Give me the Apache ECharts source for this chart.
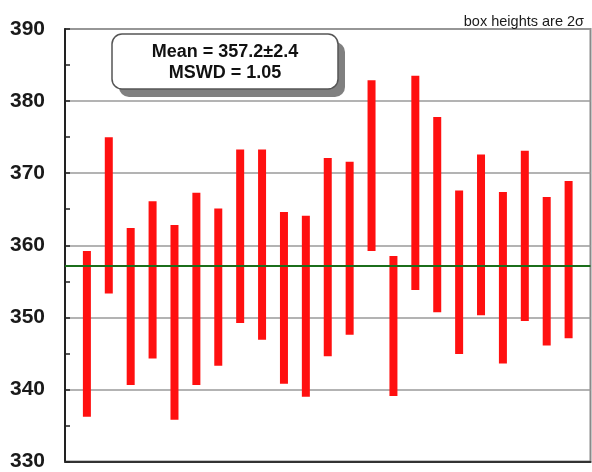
<!DOCTYPE html>
<html>
<head>
<meta charset="utf-8">
<script src="https://cdn.jsdelivr.net/npm/echarts@6/dist/echarts.min.js"></script>
<style>
  html, body { margin: 0; padding: 0; background: #fff; }
  #chart { width: 592px; height: 472px; }
</style>
</head>
<body>
<div id="chart"></div>
<script>
// Analysis number (1..23) with the lower and upper ends of each 2-sigma box
const analysis = [1, 2, 3, 4, 5, 6, 7, 8, 9, 10, 11, 12, 13, 14, 15, 16, 17, 18, 19, 20, 21, 22, 23];
const boxLow  = [336.2, 353.3, 340.6, 344.3, 335.8, 340.6, 343.3, 349.2, 346.9, 340.8, 339.0, 344.6,
                 347.6, 359.2, 339.1, 353.8, 350.7, 344.9, 350.3, 343.6, 349.5, 346.1, 347.1];
const boxHigh = [359.2, 375.0, 362.4, 366.1, 362.8, 367.3, 365.1, 373.3, 373.3, 364.6, 364.1, 372.1,
                 371.6, 382.9, 358.5, 383.5, 377.8, 367.6, 372.6, 367.4, 373.1, 366.7, 368.9];

// Weighted mean summary
const meanValue = 357.2;
const meanError = 2.4;
const mswd = 1.05;

// Y axis range, labelled step and minor tick step
const yMin = 330, yMax = 390, yStep = 10, yMinorStep = 5;

const boxData = analysis.map((a, i) => [a, boxLow[i], boxHigh[i]]);

const chart = echarts.init(document.getElementById('chart'), null, { renderer: 'canvas' });

const labelFont = 'Liberation Sans, Arial, sans-serif';

chart.setOption({
  animation: false,
  backgroundColor: '#ffffff',
  title: {
    text: 'box heights are 2\u03C3',
    right: 3,
    top: 9,
    textStyle: { fontFamily: labelFont, fontSize: 14.5, fontWeight: 'normal', color: '#1a1a1a' }
  },
  grid: {
    left: 65, right: 1.5, top: 29, bottom: 8.5,
    show: true, borderColor: '#8a8a8a', borderWidth: 2, backgroundColor: '#fff'
  },
  xAxis: {
    type: 'value', min: 0, max: analysis.length + 1,
    axisLine: { show: true, onZero: false, lineStyle: { color: '#333', width: 2 } },
    axisTick: { show: false }, axisLabel: { show: false }, splitLine: { show: false }
  },
  yAxis: [
    {
      type: 'value', min: yMin, max: yMax, interval: yStep,
      axisLine: { show: true, lineStyle: { color: '#222', width: 2 } },
      axisTick: { show: false },
      axisLabel: {
        margin: 20,
        fontFamily: labelFont, fontSize: 21, fontWeight: 'bold', color: '#1a1a1a'
      },
      splitLine: { show: true, lineStyle: { color: '#9a9a9a', width: 1.5 } }
    },
    {
      // short inward ticks every 5 units along the left edge
      type: 'value', min: yMin, max: yMax, interval: yMinorStep,
      position: 'left', offset: 0,
      axisLine: { show: false },
      axisTick: { show: true, inside: true, length: 5, lineStyle: { color: '#222', width: 1.5 } },
      axisLabel: { show: false },
      splitLine: { show: false }
    }
  ],
  series: [{
    type: 'custom',
    data: boxData,
    encode: { x: 0, y: [1, 2] },
    renderItem: function (params, api) {
      const lo = api.coord([api.value(0), api.value(1)]);
      const hi = api.coord([api.value(0), api.value(2)]);
      const w = 8;
      return {
        type: 'rect',
        shape: { x: lo[0] - w / 2, y: hi[1], width: w, height: lo[1] - hi[1] },
        style: { fill: '#ff1010' }
      };
    },
    markLine: {
      silent: true,
      symbol: 'none',
      label: { show: false },
      lineStyle: { color: '#1b6e1b', width: 2.2, type: 'solid' },
      data: [{ yAxis: meanValue }]
    },
    z: 3
  }],
  graphic: [
    {
      type: 'rect', z: 10,
      shape: { x: 119, y: 42, width: 226, height: 55, r: 10 },
      style: { fill: '#808080' }
    },
    {
      type: 'rect', z: 11,
      shape: { x: 112, y: 34, width: 226, height: 55, r: 10 },
      style: { fill: '#fff', stroke: '#555', lineWidth: 1.5 }
    },
    {
      type: 'text', z: 12,
      style: {
        x: 225, y: 52,
        text: 'Mean = ' + meanValue.toFixed(1) + '\u00B1' + meanError.toFixed(1),
        align: 'center', verticalAlign: 'middle',
        font: 'bold 18px "Liberation Sans", Arial, sans-serif', fill: '#111'
      }
    },
    {
      type: 'text', z: 12,
      style: {
        x: 225, y: 73,
        text: 'MSWD = ' + mswd.toFixed(2),
        align: 'center', verticalAlign: 'middle',
        font: 'bold 18px "Liberation Sans", Arial, sans-serif', fill: '#111'
      }
    }
  ]
});
</script>
</body>
</html>
